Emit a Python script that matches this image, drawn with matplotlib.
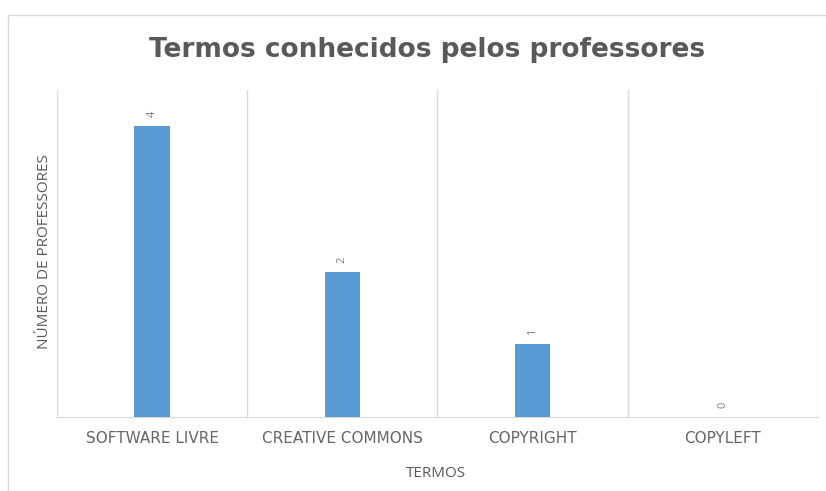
import matplotlib.pyplot as plt
from matplotlib.patches import Rectangle

termos = ['SOFTWARE LIVRE', 'CREATIVE COMMONS', 'COPYRIGHT', 'COPYLEFT']
professores = [4, 2, 1, 0]

plt.rcParams['font.family'] = ['Open Sans', 'DejaVu Sans']

fig = plt.figure(figsize=(8.26, 4.91), dpi=100)
ax = fig.add_axes([0.069, 0.151, 0.921, 0.666])

# moldura do grafico
fig.patches.append(Rectangle((0.0097, -0.05), 1.1, 1.0195, transform=fig.transFigure,
                             fill=False, edgecolor='#d9d9d9', linewidth=1.0))

x = range(len(termos))
bars = ax.bar(x, professores, width=0.185, color='#5b9bd5', zorder=3)

for i, v in enumerate(professores):
    ax.text(i, v + 0.12, str(v), rotation=90, ha='center', va='bottom',
            fontsize=8, color='#7f7f7f')

ax.set_xlim(-0.5, len(termos) - 0.5)
ax.set_ylim(0, 4.5)

# linhas verticais entre categorias
for b in [k - 0.5 for k in range(len(termos) + 1)]:
    ax.axvline(b, color='#d9d9d9', linewidth=1.0, zorder=1)

ax.set_xticks(list(x))
ax.set_xticklabels(termos, fontsize=11, color='#666666', family='DejaVu Sans')
ax.tick_params(axis='x', length=0, pad=10)
ax.set_yticks([])
for s in ['top', 'right', 'left']:
    ax.spines[s].set_visible(False)
ax.spines['bottom'].set_color('#d9d9d9')

ax.set_xlabel('TERMOS', fontsize=11, color='#595959')
ax.set_ylabel('NÚMERO DE PROFESSORES', fontsize=11, color='#595959')
ax.xaxis.set_label_coords(0.498, -0.174)
ax.xaxis.label.set_va('center')
ax.yaxis.set_label_coords(-0.016, 0.505)
ax.yaxis.label.set_va('center')

fig.text(0.517, 0.898, 'Termos conhecidos pelos professores', ha='center', va='center',
         fontsize=19, fontweight='bold', color='#595959', family='DejaVu Sans')

fig.savefig('out.png', dpi=100)
